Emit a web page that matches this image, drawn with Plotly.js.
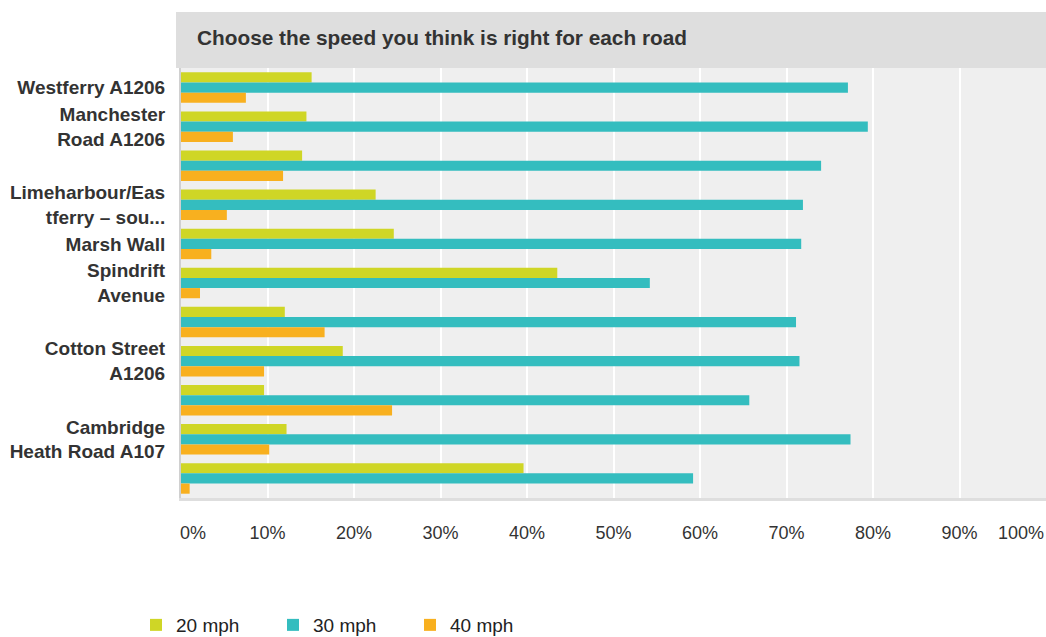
<!DOCTYPE html>
<html>
<head>
<meta charset="utf-8">
<script src="https://cdn.plot.ly/plotly-3.0.1.min.js"></script>
<style>html,body{margin:0;padding:0;background:#fff;}#chart{width:1046px;height:637px;}</style>
</head>
<body>
<div id="chart"></div>
<script>
// ---- data ----
var categories = [
  "Westferry A1206",
  "Manchester Road A1206",
  "Road 3",
  "Limeharbour/Eastferry – south",
  "Marsh Wall",
  "Spindrift Avenue",
  "Road 7",
  "Cotton Street A1206",
  "Road 9",
  "Cambridge Heath Road A107",
  "Road 11"
];
var yTickLabels = [
  "Westferry A1206",
  "Manchester<br>Road A1206",
  "",
  "Limeharbour/Eas<br>tferry – sou...",
  "Marsh Wall",
  "Spindrift<br>Avenue",
  "",
  "Cotton Street<br>A1206",
  "",
  "Cambridge<br>Heath Road A107",
  ""
];
var seriesNames = ["20 mph", "30 mph", "40 mph"];
var mph20 = [15.1, 14.5, 14.0, 22.5, 24.6, 43.5, 12.0, 18.7, 9.6, 12.2, 39.6];
var mph30 = [77.1, 79.4, 74.0, 71.9, 71.7, 54.2, 71.1, 71.5, 65.7, 77.4, 59.2];
var mph40 = [7.5, 6.0, 11.8, 5.3, 3.5, 2.2, 16.6, 9.6, 24.4, 10.2, 1.0];
var xTickValues = [0, 10, 20, 30, 40, 50, 60, 70, 80, 90, 100];
var xTickLabels = ["0%", "10%", "20%", "30%", "40%", "50%", "60%", "70%", "80%", "90%", "100%"];
var xLabelPositions = [1.4, 10, 20, 30, 40, 50, 60, 70, 80, 90, 97.1];
var chartTitle = "Choose the speed you think is right for each road";

var colors = ["#cfd626", "#34bdbf", "#f8b01f"];
var values = [mph20, mph30, mph40];

var traces = values.map(function (v, i) {
  return {
    type: "bar",
    orientation: "h",
    name: seriesNames[i],
    x: v,
    y: categories,
    marker: { color: colors[i] },
    hoverinfo: "x+name"
  };
});
// empty carrier so the label axis (x2) is drawn
traces.push({ type: "bar", orientation: "h", x: [], y: [], xaxis: "x2", yaxis: "y", showlegend: false, hoverinfo: "skip" });

var FONT = "Liberation Sans, Arial, sans-serif";

var layout = {
  width: 1046,
  height: 637,
  margin: { l: 181, r: 0, t: 68, b: 139, pad: 0 },
  paper_bgcolor: "#ffffff",
  plot_bgcolor: "#efefef",
  barmode: "group",
  bargap: 0.22,
  bargroupgap: 0,
  font: { family: FONT, color: "#333333", size: 18 },
  xaxis: {
    range: [0, 100],
    tickvals: xTickValues,
    ticktext: xTickLabels,
    showticklabels: false,
    showgrid: true,
    gridcolor: "#ffffff",
    gridwidth: 2,
    zeroline: false,
    showline: true,
    linecolor: "#dedede",
    linewidth: 3,
    fixedrange: true
  },
  xaxis2: {
    overlaying: "x",
    side: "bottom",
    anchor: "y",
    range: [0, 100],
    tickmode: "array",
    tickvals: xLabelPositions,
    ticktext: xTickLabels,
    showgrid: false,
    zeroline: false,
    showline: false,
    ticks: "outside",
    ticklen: 18,
    tickcolor: "rgba(0,0,0,0)",
    tickfont: { family: FONT, size: 18, color: "#333333" },
    fixedrange: true
  },
  yaxis: {
    type: "category",
    autorange: "reversed",
    tickvals: categories,
    ticktext: yTickLabels,
    tickfont: { family: FONT, size: 19, color: "#333333", weight: "bold" },
    ticks: "outside",
    ticklen: 10,
    tickcolor: "rgba(0,0,0,0)",
    showgrid: false,
    zeroline: false,
    showline: true,
    linecolor: "#d0d0d0",
    linewidth: 2,
    fixedrange: true
  },
  shapes: [{
    type: "rect",
    xref: "paper", yref: "paper",
    x0: -0.0058, x1: 1.01, y0: 1.0, y1: 1.1302,
    fillcolor: "#dedede",
    line: { width: 0 },
    layer: "below"
  }],
  annotations: [{
    text: "<b>" + chartTitle + "</b>",
    xref: "paper", yref: "paper",
    x: 0.0162, y: 1.0698,
    xanchor: "left", yanchor: "middle",
    showarrow: false,
    font: { family: FONT, size: 20.8, color: "#333333" }
  }],
  showlegend: true,
  legend: {
    orientation: "h",
    xref: "container", yref: "container",
    x: 0.13, xanchor: "left",
    y: 0.0188, yanchor: "middle",
    entrywidth: 92,
    entrywidthmode: "pixels",
    font: { family: FONT, size: 19, color: "#222222" },
    bgcolor: "rgba(0,0,0,0)",
    traceorder: "normal"
  }
};

Plotly.newPlot("chart", traces, layout, { displayModeBar: false, staticPlot: true });
</script>
</body>
</html>
